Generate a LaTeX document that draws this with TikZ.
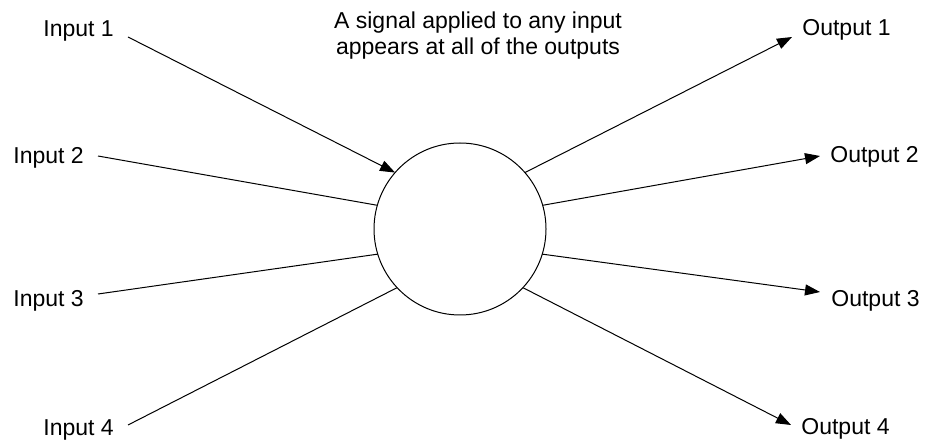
\documentclass[tikz,border=0pt]{standalone}
\usepackage{fontspec}
\setmainfont{Liberation Sans}
\usetikzlibrary{arrows.meta,positioning}

\begin{document}
\begin{tikzpicture}[x=0.5pt, y=-0.5pt,
  lbl/.style={anchor=base west, inner sep=0pt, font=\fontsize{11.5}{13}\selectfont},
  link/.style={line width=0.5pt, black},
  tip/.style={-{Triangle[length=7.5pt, width=5.5pt]}}]
  \useasboundingbox (0,0) rectangle (925,442);
  % hub
  \node[draw, circle, line width=0.5pt, minimum size=86pt, inner sep=0pt, outer sep=0pt] (hub) at (460,229) {};
  \node[align=center, inner sep=0pt, anchor=base, font=\fontsize{11.5}{13}\selectfont] (note) at (478,55) {A signal applied to any input\\appears at all of the outputs};
  % inputs
  \node[lbl] (in1) at (43,37) {Input 1};
  \node[lbl] (in2) at (13,164) {Input 2};
  \node[lbl] (in3) at (13,307) {Input 3};
  \node[lbl] (in4) at (43,436) {Input 4};
  \coordinate (a1) at (128,37);
  \coordinate (a2) at (98,156);
  \coordinate (a3) at (98,294);
  \coordinate (a4) at (128,425);
  % outputs
  \node[lbl] (out1) at (802,36) {Output 1};
  \node[lbl] (out2) at (830,163) {Output 2};
  \node[lbl] (out3) at (831,307) {Output 3};
  \node[lbl] (out4) at (801,435) {Output 4};
  \coordinate (b1) at (792,37);
  \coordinate (b2) at (820,156);
  \coordinate (b3) at (820,292);
  \coordinate (b4) at (791,425);
  \draw[link, tip] (a1) -- (hub.139);
  \draw[link] (a2) -- (hub.164);
  \draw[link] (a3) -- (hub.197);
  \draw[link] (a4) -- (hub.223);
  \draw[link, tip] (hub.41) -- (b1);
  \draw[link, tip] (hub.16) -- (b2);
  \draw[link, tip] (hub.-17) -- (b3);
  \draw[link, tip] (hub.-43) -- (b4);
\end{tikzpicture}
\end{document}
